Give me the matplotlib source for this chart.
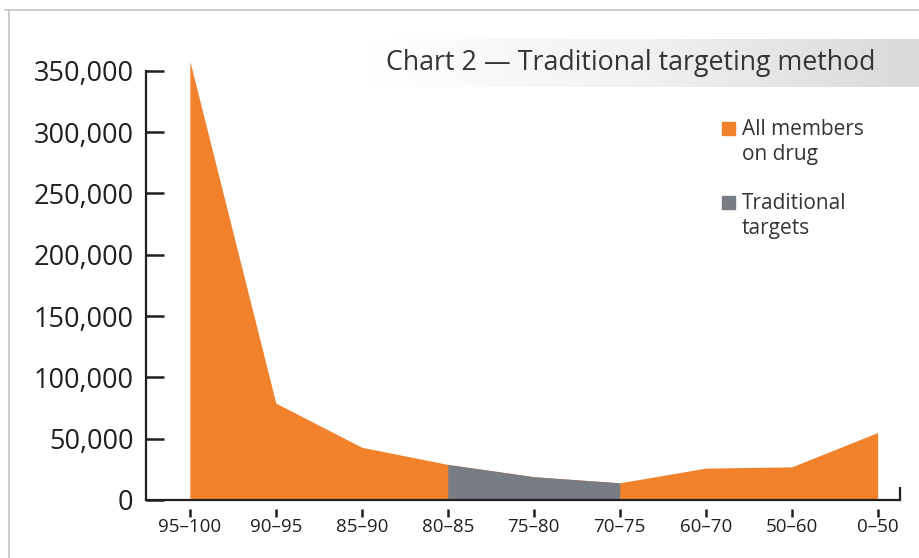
import numpy as np
import matplotlib.pyplot as plt
from matplotlib.ticker import FuncFormatter
from matplotlib.colors import LinearSegmentedColormap

plt.rcParams['font.family'] = ['Open Sans', 'DejaVu Sans']

# members on the drug, by adherence band
bands = ["95–100", "90–95", "85–90", "80–85", "75–80", "70–75", "60–70", "50–60", "0–50"]
members = [358000, 79000, 43000, 29000, 19000, 14000, 26000, 27000, 55000]
# traditional targets are the 70–85 bands
target_bands = ["80–85", "75–80", "70–75"]

yticks = [0, 50000, 100000, 150000, 200000, 250000, 300000, 350000]

orange = "#f2812b"
grey = "#787c83"
ink = "#231f20"
text_col = "#333338"

x = np.arange(len(bands))
y = np.array(members)
is_target = np.array([b in target_bands for b in bands])

fig = plt.figure(figsize=(9.2, 5.58), dpi=100)

# thin frame along the top and left
fig.add_artist(plt.Line2D([5 / 920, 1], [1 - 10 / 558, 1 - 10 / 558], color="#c4c4c4", lw=1.2))
fig.add_artist(plt.Line2D([9 / 920, 9 / 920], [0, 1 - 10 / 558], color="#c4c4c4", lw=1.2))

ax = fig.add_axes([146 / 920, 1 - 500 / 558, 754 / 920, 444 / 558])

ax.fill_between(x, 0, y, color=orange, lw=0)
ax.fill_between(x, 0, y, where=is_target, color=grey, lw=0)

ax.set_xlim(-0.51, 8.26)
ax.set_ylim(0, 362000)

ax.spines["top"].set_visible(False)
ax.spines["left"].set_bounds(0, 350000)
ax.spines["right"].set_bounds(0, 10000)
for s in ["left", "bottom", "right"]:
    ax.spines[s].set_linewidth(1.6)
    ax.spines[s].set_color(ink)

ax.set_yticks(yticks)
ax.yaxis.set_major_formatter(FuncFormatter(lambda v, p: f"{int(v):,}"))
ax.tick_params(axis="y", direction="in", length=13, width=1.8, color=ink,
               labelsize=19.5, labelcolor=ink, pad=9, right=False)

ax.set_xticks(x)
ax.set_xticklabels(bands)
ax.tick_params(axis="x", length=0, labelsize=13.5, labelcolor=ink, pad=13)

# short detached tick marks under each band
ax.plot(x, np.full(len(x), -0.03), ls="none", marker="|", ms=6, mew=1.8,
        color=ink, transform=ax.get_xaxis_transform(), clip_on=False)

# title banner with a soft grey gradient
bx = fig.add_axes([370 / 920, 1 - 87 / 558, 550 / 920, 48 / 558])
grad = np.linspace(0, 1, 256).reshape(1, -1)
cmap = LinearSegmentedColormap.from_list("banner", ["#ffffff", "#f0f1f1", "#d9d9d9"])
bx.imshow(grad, aspect="auto", cmap=cmap, extent=[0, 1, 0, 1])
bx.set_axis_off()
fig.text(386 / 920, 1 - 63 / 558, "Chart 2 — Traditional targeting method",
         fontsize=19.3, color=text_col, va="center", ha="left")

# legend
legend_items = [("All members\non drug", orange, 128), ("Traditional\ntargets", grey, 202)]
for label, col, ypix in legend_items:
    fig.patches.append(plt.Rectangle((722 / 920, 1 - (ypix + 7) / 558), 13 / 920, 13 / 558,
                                     transform=fig.transFigure, color=col, figure=fig))
    fig.text(742 / 920, 1 - (ypix - 9) / 558, label, fontsize=15, color=text_col,
             va="top", ha="left", linespacing=1.25)

fig.savefig("out.png", dpi=100)
